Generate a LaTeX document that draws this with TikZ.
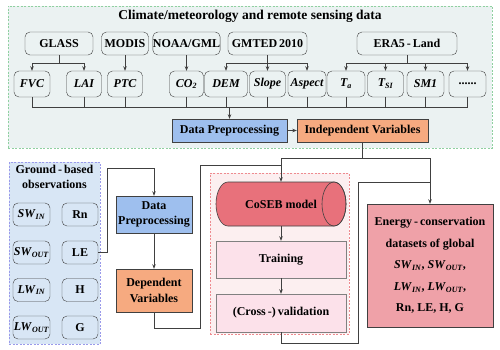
\documentclass[tikz,border=0pt]{standalone}
\usepackage{fontspec}
\setmainfont{Liberation Serif}
\usetikzlibrary{arrows.meta,positioning,shapes.geometric,backgrounds}
\definecolor{inkgray}{HTML}{404040}
\definecolor{greenbg}{HTML}{EBF2F2}
\definecolor{greenline}{HTML}{8FD0A0}
\definecolor{bluebg}{HTML}{D8E6F5}
\definecolor{blueline}{HTML}{9A9AEA}
\definecolor{pinkbg}{HTML}{FCEFF0}
\definecolor{pinkline}{HTML}{EE8A8F}
\definecolor{procblue}{HTML}{9EBFEE}
\definecolor{varorange}{HTML}{F6AA80}
\definecolor{modelred}{HTML}{E8717B}
\definecolor{steppink}{HTML}{FCE1EA}
\definecolor{outrose}{HTML}{EFA1A8}
\newcommand\varsub[2]{\textit{#1}\textsubscript{\textit{#2}}}

\begin{document}
\begin{tikzpicture}[x=1pt, y=-1pt,
  panel/.style={dash pattern=on 2pt off 1.5pt, line width=0.6pt, inner sep=0pt},
  srcbox/.style={draw=inkgray, rounded corners=5pt, minimum height=23pt, inner sep=0pt, font=\fontsize{12}{14}\selectfont\bfseries},
  varbox/.style={draw=inkgray, rounded corners=5pt, minimum height=26pt, inner sep=0pt, font=\fontsize{12}{14}\selectfont\bfseries\itshape},
  obsbox/.style={draw=inkgray, rounded corners=5pt, minimum height=23pt, inner sep=0pt, font=\fontsize{12}{14}\selectfont\bfseries},
  procbox/.style={draw=inkgray, fill=procblue, inner sep=0pt, align=center, font=\fontsize{12}{15}\selectfont\bfseries},
  depbox/.style={draw=inkgray, fill=varorange, inner sep=0pt, align=center, font=\fontsize{12}{16}\selectfont\bfseries},
  stepbox/.style={draw=gray, fill=steppink, minimum width=130pt, inner sep=0pt, font=\fontsize{12}{14}\selectfont\bfseries},
  ln/.style={draw=inkgray, line width=0.8pt},
  arr/.style={ln, -{Stealth[length=4.5pt, width=3.5pt]}}
]
  \useasboundingbox (0,0) rectangle (500,350);

  \node[panel, draw=greenline, fill=greenbg, minimum width=484pt, minimum height=142pt] (climpanel) at (250,77) {};
  \node[panel, draw=blueline, fill=bluebg, minimum width=91pt, minimum height=182pt] (obspanel) at (54.5,253) {};
  \node[panel, draw=pinkline, fill=pinkbg, minimum width=139pt, minimum height=161pt] (modelpanel) at (279.5,253.5) {};

  \node[font=\fontsize{13.5}{15}\selectfont\bfseries] (climtitle) at (250,16) {Climate/meteorology and remote sensing data};

  \node[srcbox, minimum width=68pt] (glass) at (59,43.5) {GLASS};
  \node[srcbox, minimum width=47pt] (modis) at (125,43.5) {MODIS};
  \node[srcbox, minimum width=67pt] (noaa) at (186.5,43.5) {NOAA/GML};
  \node[srcbox, minimum width=79pt] (gmted) at (267.5,43.5) {GMTED\,2010};
  \node[srcbox, minimum width=100pt] (era) at (407,43.5) {ERA5\,-\,Land};

  \node[varbox, minimum width=36pt] (fvc) at (32,84) {FVC};
  \node[varbox, minimum width=35pt] (lai) at (84,84) {LAI};
  \node[varbox, minimum width=35pt] (ptc) at (125,84) {PTC};
  \node[varbox, minimum width=34pt] (co2) at (186.5,84) {CO\textsubscript{2}};
  \node[varbox, minimum width=43pt] (dem) at (226,84) {DEM};
  \node[varbox, minimum width=36pt] (slope) at (267.5,84) {Slope};
  \node[varbox, minimum width=38pt] (aspect) at (307,84) {Aspect};
  \node[varbox, minimum width=38pt] (ta) at (346,84) {T\textsubscript{a}};
  \node[varbox, minimum width=36pt] (tsi) at (385.5,84) {T\textsubscript{SI}};
  \node[varbox, minimum width=37pt] (smone) at (425.5,84) {SM1};
  \node[varbox, minimum width=37pt, font=\fontsize{12}{14}\selectfont\bfseries] (dots) at (467.5,84) {......};

  \node[procbox, minimum width=115pt, minimum height=23pt] (dp) at (229.5,130.5) {Data Preprocessing};
  \node[depbox, minimum width=131pt, minimum height=23pt] (iv) at (362.5,130.5) {Independent Variables};

  \node[align=center, font=\fontsize{12}{15}\selectfont\bfseries] (obstitle) at (54.5,176.5) {Ground\,-\,based\\observations};
  \node[obsbox, minimum width=37pt] (swin) at (31.5,214.5) {\varsub{SW}{IN}};
  \node[obsbox, minimum width=36pt] (rn) at (80,214.5) {Rn};
  \node[obsbox, minimum width=37pt] (swout) at (31.5,252.5) {\varsub{SW}{OUT}};
  \node[obsbox, minimum width=36pt] (le) at (80,252.5) {LE};
  \node[obsbox, minimum width=37pt] (lwin) at (31.5,290) {\varsub{LW}{IN}};
  \node[obsbox, minimum width=36pt] (hflux) at (80,290) {H};
  \node[obsbox, minimum width=37pt] (lwout) at (31.5,327.5) {\varsub{LW}{OUT}};
  \node[obsbox, minimum width=36pt] (gflux) at (80,327.5) {G};

  \node[procbox, minimum width=76pt, minimum height=37pt] (dptwo) at (154,214.5) {Data\\Preprocessing};
  \node[depbox, minimum width=76pt, minimum height=43pt] (dv) at (154,290.5) {Dependent\\Variables};

  \filldraw[draw=inkgray, fill=modelred, line width=0.6pt] (334,182) -- (228,182) arc[start angle=90, end angle=270, x radius=12pt, y radius=22pt] -- (334,226) arc[start angle=270, end angle=450, x radius=12pt, y radius=22pt] -- cycle;
  \draw[draw=inkgray, line width=0.6pt] (334,204) ellipse[x radius=12pt, y radius=22pt];
  \node[minimum width=130pt, minimum height=44pt, inner sep=0pt, font=\fontsize{12}{14}\selectfont\bfseries] (coseb) at (281,204) {CoSEB model};
  \node[stepbox, minimum height=37pt] (train) at (281,259.5) {Training};
  \node[stepbox, minimum height=38pt] (valid) at (281,313) {(Cross\,-)\,validation};

  \node[draw=inkgray, fill=outrose, minimum width=126pt, minimum height=123pt, inner sep=0pt, align=center, font=\fontsize{12}{21.5}\selectfont\bfseries] (energy) at (430,265.5) {Energy\,-\,conservation\\datasets of global\\\varsub{SW}{IN}, \varsub{SW}{OUT},\\\varsub{LW}{IN}, \varsub{LW}{OUT},\\Rn, LE, H, G};

  \coordinate (glasssplit) at (glass.south |- 0,63);
  \draw[ln] (glass.south) -- (glasssplit);
  \draw[arr] (glasssplit) -| (fvc);
  \draw[arr] (glasssplit) -| (lai);
  \draw[arr] (modis) -- (ptc);
  \draw[arr] (noaa) -- (co2);
  \coordinate (gmtedsplit) at (gmted.south |- 0,63);
  \draw[ln] (gmted.south) -- (gmtedsplit);
  \draw[arr] (gmtedsplit) -| (dem);
  \draw[arr] (gmtedsplit) -- (slope);
  \draw[arr] (gmtedsplit) -| (aspect);
  \coordinate (erasplit) at (era.south |- 0,63);
  \draw[ln] (era.south) -- (erasplit);
  \foreach \v in {ta,tsi,smone,dots}
    \draw[arr] (erasplit) -| (\v);

  \foreach \v in {fvc,lai,ptc,co2,dem,slope,aspect,ta,tsi,smone,dots}
    \draw[ln] (\v.south) -- (\v.south |- 0,107);
  \draw[ln] (fvc.south |- 0,107) -- (dots.south |- 0,107);
  \draw[arr] (dp.north |- 0,107) -- (dp);
  \draw[arr] (dp) -- (iv);

  \coordinate (ivsplit) at (iv.south |- 0,158);
  \draw[ln] (iv.south) -- (ivsplit);
  \draw[arr] (ivsplit) -| (coseb);
  \draw[arr] (ivsplit) -| (energy);

  \draw[arr] (le.east) -| (107,168) -- (dptwo.north |- 0,168) -- (dptwo);
  \draw[arr] (dptwo) -- (dv);
  \draw[ln] (dv.south) |- (200,328) |- (coseb.north |- 0,165);

  \draw[arr] (coseb) -- (train);
  \draw[arr] (train) -- (valid);
  \draw[ln] (valid.south) |- (358,343) |- (energy.north |- 0,182);
\end{tikzpicture}
\end{document}
